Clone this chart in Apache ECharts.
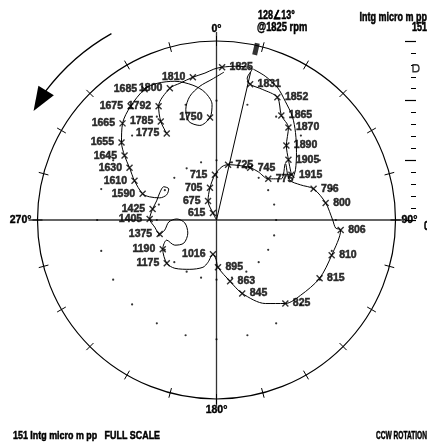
<!DOCTYPE html>
<html>
<head>
<meta charset="utf-8">
<script src="https://cdn.jsdelivr.net/npm/echarts@6/dist/echarts.min.js"></script>
<style>
html, body { margin: 0; padding: 0; background: #fff; }
#chart { width: 427px; height: 445px; }
</style>
</head>
<body>
<div id="chart"></div>
<script>
var FONT = "'Liberation Sans', Arial, sans-serif";
var fullScale = 151;          // intg micro m pp
var peak = [128, 13];         // amplitude, phase @1825 rpm

// polar trace points: [amplitude, phase deg, rpm label]
var runLow = [
    [0, 333, null], [6.6, 333, '615'], [17.6, 336, '675'], [27.7, 348.5, '705'], [38.2, 358, '715'],
    [45.2, 5.9, null], [47.7, 11.8, '725'], [50, 23.5, null], [52.5, 32.8, '745'], [53.8, 40.8, null],
    [55.8, 51.5, '775'], [64.8, 57.6, null], [75.1, 50.7, null], [70.2, 61.1, null], [76.8, 67.3, null],
    [86, 72.2, '796'], [93.2, 81.1, '800'], [98, 90, null], [100.8, 93.9, null], [105.1, 94.6, '806'],
    [101.6, 107, '810'], [99.9, 119.5, '815'], [95.2, 131.9, null], [91.3, 140.5, '825'], [81.6, 149.7, null],
    [65.6, 160.7, '845'], [53, 167.5, '863'], [39.9, 178.2, '895'], [33.1, 180.7, null], [29, 185.9, '1016'],
    [36.4, 191.4, null], [41.5, 196, null], [47.3, 208.4, null], [53.8, 220.8, null], [55.6, 229, '1175'],
    [51.6, 241.5, '1190'], [45.3, 248, null], [41.1, 238.9, null], [33.8, 234.7, null], [26.6, 245.5, null],
    [26.8, 264.6, null], [33.5, 271.5, null], [40.3, 267.6, null], [44.5, 259, null], [49.4, 256.1, '1375'],
    [52.5, 263.5, null], [56.4, 270.9, '1405'], [54.7, 279.8, '1425'], [53, 287.7, null], [53.1, 295.5, null],
    [52.6, 302.2, null], [48.1, 303.1, null], [47.1, 296.8, null], [51.4, 291.3, null], [59.7, 289.1, null],
    [66.1, 289.5, '1590'], [76.7, 295.6, '1610'], [85.6, 301, '1630'], [94.7, 305, '1645'], [103.4, 309.2, '1655'],
    [113.7, 315.8, '1665'], [120.2, 322.9, '1675'], [125.9, 331.2, '1685'], [125.6, 336.7, null], [122.2, 343.3, null],
    [115.4, 350.1, null], [108.2, 354.8, null], [97.6, 357.8, null], [86.7, 356.4, '1750'], [81, 350, null],
    [86.4, 344.3, null], [96.9, 344.5, null], [106.7, 347.8, null], [113.7, 352.9, null], [118.8, 358.2, null],
    [124.9, 2.9, null]
];
var runHigh = [
    [84.2, 330.1, '1775'], [95.5, 330.5, '1785'], [107.6, 333, '1792'], [117.9, 340.5, '1800'], [119.4, 345, null],
    [122.1, 350.6, '1810'], [124.3, 355.5, null], [127.3, 359, null], [129, 2.1, '1825'], [130.8, 7.3, null],
    [130.7, 13.3, null], [122.4, 12.2, null], [118, 13.9, '1831'], [116.8, 19.3, null], [115.5, 26.4, '1852'],
    [103.8, 31.8, '1865'], [98.8, 37.9, '1870'], [86.1, 43.2, '1890'], [79.2, 50, '1905'], [73.8, 58.9, '1915']
];
var runReturn = [
    [131, 13.7], [128.1, 18.7], [123.2, 24.6], [115.7, 30.1], [108.3, 36.2],
    [99.4, 42.1], [88.2, 49.9], [79, 57.5], [72.5, 62.1]
];
var phaseTicks = 15;
var gridRings = [fullScale / 3, fullScale * 2 / 3];

var cx = 216.5, cy = 220, R = 179;
function pt(r, ph) {
    var a = ph * Math.PI / 180;
    return [cx + r * Math.sin(a), cy - r * Math.cos(a)];
}

var dots = [];
gridRings.forEach(function (r) {
    for (var a = 0; a < 360; a += phaseTicks) dots.push([r, a]);
});
function xy(run) { return run.map(function (p) { return [p[0], p[1]]; }); }
function marks(run) {
    return run.filter(function (p) { return p[2]; }).map(function (p) {
        return { value: [p[0], p[1]], name: p[2], label: { position: p[1] < 180 ? 'right' : 'left' } };
    });
}
var lineStyle = { color: '#000', width: 1 };
// condensed heavy text, squeezed with scaleX
var tx = function (x, y, text, size, sx, align) {
    return {
        type: 'text', x: x, y: y, scaleX: sx,
        style: {
            text: text, fill: '#000', stroke: '#000', lineWidth: 0.5,
            font: 'bold ' + size + 'px ' + FONT, textAlign: align || 'left', textVerticalAlign: 'middle'
        }
    };
};

var myChart = echarts.init(document.getElementById('chart'));
var option = {
    backgroundColor: '#fff',
    animation: false,
    polar: [
        { center: [cx, cy], radius: R },
        { center: [cx, cy], radius: R },
        { center: [cx, cy], radius: R }
    ],
    angleAxis: [
        {
            polarIndex: 0, type: 'value', min: 0, max: 360, interval: 90, startAngle: 90, clockwise: true,
            axisLine: { lineStyle: { color: '#000', width: 1.2 } },
            axisTick: { show: true, length: 9, lineStyle: { color: '#333', width: 1.3 } },
            axisLabel: {
                margin: 6, color: '#000', fontWeight: 'bold', fontSize: 10.5, fontFamily: FONT,
                textBorderColor: '#000', textBorderWidth: 0.4,
                formatter: function (v) { return v === 360 ? '' : v + '°'; }
            },
            splitLine: { show: true, lineStyle: { color: '#333', width: 1.3 } }
        },
        {
            polarIndex: 1, type: 'value', min: 0, max: 360, interval: phaseTicks, startAngle: 90,
            axisLine: { show: false }, axisLabel: { show: false }, splitLine: { show: false },
            axisTick: { show: true, length: 5, lineStyle: { color: '#000', width: 1 } }
        },
        {
            polarIndex: 2, type: 'value', min: 0, max: 360, interval: phaseTicks, startAngle: 90,
            axisLine: { show: false }, axisLabel: { show: false }, splitLine: { show: false },
            axisTick: { show: true, inside: true, length: 5, lineStyle: { color: '#000', width: 1 } }
        }
    ],
    radiusAxis: [
        { polarIndex: 0, min: 0, max: fullScale, axisLine: { show: false }, axisTick: { show: false }, axisLabel: { show: false }, splitLine: { show: false } },
        { polarIndex: 1, min: 0, max: fullScale, show: false },
        { polarIndex: 2, min: 0, max: fullScale, show: false }
    ],
    grid: { left: 416, width: 12, top: 41, height: 179 },
    xAxis: { type: 'value', min: 0, max: 12, show: false },
    yAxis: {
        type: 'value', position: 'right', min: 0, max: fullScale, interval: fullScale / 3,
        axisLine: { show: false }, axisLabel: { show: false }, splitLine: { show: false },
        axisTick: { show: true, inside: true, length: 11, lineStyle: { color: '#000', width: 1.2 } },
        minorTick: { show: true, splitNumber: 5, length: 5, lineStyle: { color: '#000', width: 1 } }
    },
    series: [
        {
            type: 'scatter', coordinateSystem: 'polar', polarIndex: 0, symbol: 'circle', symbolSize: 2.2,
            itemStyle: { color: '#000' }, silent: true, data: dots
        },
        { type: 'line', coordinateSystem: 'polar', polarIndex: 0, showSymbol: false, lineStyle: lineStyle, data: [[0, peak[1]], peak] },
        { type: 'line', coordinateSystem: 'polar', polarIndex: 0, showSymbol: false, smooth: 0.3, lineStyle: lineStyle, data: xy(runLow) },
        { type: 'line', coordinateSystem: 'polar', polarIndex: 0, showSymbol: false, smooth: 0.3, lineStyle: lineStyle, data: xy(runHigh) },
        { type: 'line', coordinateSystem: 'polar', polarIndex: 0, showSymbol: false, smooth: 0.3, lineStyle: lineStyle, data: runReturn },
        {
            type: 'scatter', coordinateSystem: 'polar', polarIndex: 0,
            symbol: 'path://M0,0L8,8M8,0L0,8', symbolSize: 6,
            itemStyle: { color: 'none', borderColor: '#000', borderWidth: 1.4 },
            label: {
                show: true, formatter: '{b}', distance: 2, color: '#000',
                fontWeight: 'bold', fontSize: 10.5, fontFamily: FONT,
                textBorderColor: '#000', textBorderWidth: 0.5
            },
            data: marks(runLow).concat(marks(runHigh))
        },
        {
            type: 'scatter', coordinateSystem: 'polar', polarIndex: 0, symbol: 'rect',
            symbolSize: [5, 12], symbolRotate: -peak[1], itemStyle: { color: '#000' },
            data: [[fullScale - 3, peak[1]]]
        },
        {
            type: 'scatter', symbol: 'path://M0,0L5,0Q10,0 10,5Q10,10 5,10L0,10Z', symbolSize: [6, 7],
            itemStyle: { color: '#fff', borderColor: '#000', borderWidth: 1.5 },
            data: [[0, peak[0]]]
        }
    ],
    graphic: [
        {
            type: 'arc', shape: { cx: cx, cy: cy, r: 214, startAngle: (307 - 90) * Math.PI / 180, endAngle: (330.6 - 90) * Math.PI / 180 },
            style: { stroke: '#000', lineWidth: 1.3, fill: null }
        },
        { type: 'polygon', shape: { points: [pt(213, 300.8), pt(223, 307), pt(205, 307.5)] }, style: { fill: '#000' } },
        tx(258, 16, peak[0] + '∠' + peak[1] + '°', 12, 0.75),
        tx(257, 28, '@1825 rpm', 12, 0.78),
        tx(427, 18, 'Intg micro m pp', 12, 0.75, 'right'),
        tx(427, 28, String(fullScale), 12, 0.75, 'right'),
        tx(424, 227, '0', 12, 0.75),
        tx(13, 436, fullScale + ' Intg micro m pp   FULL SCALE', 11, 0.81),
        tx(427, 436, 'CCW ROTATION', 11, 0.6, 'right')
    ]
};
myChart.setOption(option);
</script>
</body>
</html>
